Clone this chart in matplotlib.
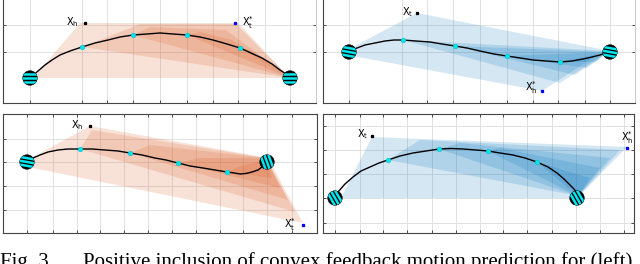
import matplotlib
matplotlib.use("Agg")
import matplotlib.pyplot as plt
from matplotlib.patches import Polygon, Circle
import numpy as np

W, H = 640, 264
ORANGE = '#d95319'
BLUE = '#0072bd'

# ---------------- data (pixel-space coordinates) ----------------
# top-left panel
tl_curve_x = [30, 38, 45, 52, 60, 70, 82, 95, 108, 120, 133, 147, 160, 173, 187, 200, 213, 227, 240, 251, 262, 272, 280, 286, 290]
tl_curve_y = [78, 71, 65, 60, 55, 51, 47, 43, 40, 37, 35, 34, 33, 34, 35, 37, 40, 44, 48, 53, 58, 64, 70, 74, 78]
tl_dots_x = [82, 133, 187, 240]
tl_dots_y = [47, 35, 35, 48]
tl_robots = [(30, 78, 0), (290, 78, 0)]
tl_shapes = [
    [(33, 78), (80, 23), (238, 23), (290, 78)],
    [(82, 47), (140, 24), (236, 24), (290, 78)],
    [(133, 35), (150, 27), (226, 30), (290, 78)],
    [(187, 35), (200, 32), (232, 40), (290, 78)],
    [(240, 48), (252, 51), (290, 78)],
]
tl_labels = [("$\\mathrm{X}_\\mathrm{h}$", 79, 22, 85, 23, 'k', 'right'),
             ("$\\mathrm{X}^{*}_{\\mathrm{t}}$", 242, 23, 235, 23, 'b', 'left')]
tl_xgrid = [30, 82, 107, 133, 160, 187, 213, 238, 265, 290]
tl_ygrid = [25, 52]

# top-right panel
tr_curve_x = [349, 357, 365, 375, 385, 394, 403, 416, 430, 442, 455, 467, 480, 494, 507, 520, 533, 546, 560, 572, 583, 592, 600, 606, 610]
tr_curve_y = [52, 48, 45, 43, 41, 40, 40, 41, 42, 44, 46, 48, 51, 54, 56, 58, 60, 61, 62, 61, 59, 57, 55, 53, 52]
tr_dots_x = [403, 455, 507, 560]
tr_dots_y = [40, 46, 56, 62]
tr_robots = [(349, 52, 10), (610, 52, 10)]
tr_shapes = [
    [(353, 47), (417, 13), (605, 50), (542, 91), (353, 56)],
    [(403, 40), (608, 51), (560, 83)],
    [(455, 46), (608, 52), (575, 75)],
    [(507, 56), (608, 52), (587, 68)],
    [(560, 62), (608, 52), (596, 62)],
]
tr_labels = [("$\\mathrm{X}_\\mathrm{t}$", 413, 12, 417, 13, 'k', 'right'),
             ("$\\mathrm{X}^{*}_{\\mathrm{h}}$", 538, 88, 542, 91, 'b', 'right')]
tr_xgrid = [349, 402, 427, 453, 480, 507, 533, 558, 585, 610]
tr_ygrid = [25, 52]

# bottom-left panel
bl_curve_x = [27, 33, 40, 48, 58, 68, 80, 92, 105, 118, 130, 142, 155, 166, 178, 190, 203, 215, 227, 234, 240, 246, 252, 258, 262]
bl_curve_y = [162, 158, 155, 152, 150, 149, 149, 149, 150, 151, 153, 155, 158, 160, 163, 166, 168, 170, 172, 173, 174, 173.5, 172, 170, 167]
bl_dots_x = [80, 130, 178, 227]
bl_dots_y = [149, 153, 163, 172]
bl_robots = [(27, 162, 10), (267, 162, 70)]
bl_shapes = [
    [(33, 157), (90, 126), (268, 158), (303, 223), (33, 168)],
    [(80, 149), (92, 130), (266, 158), (295, 212)],
    [(130, 153), (150, 145), (266, 158), (288, 200)],
    [(178, 163), (200, 158), (266, 158), (280, 188)],
    [(227, 172), (240, 166), (266, 160), (272, 178)],
]
bl_labels = [("$\\mathrm{X}_\\mathrm{h}$", 84, 125, 90, 126, 'k', 'right'),
             ("$\\mathrm{X}^{*}_{\\mathrm{t}}$", 296, 225, 303, 225, 'b', 'right')]
bl_xgrid = [27, 53, 77, 100, 124, 148, 172, 196, 220, 243, 267, 292]
bl_ygrid = [139, 162, 186, 210]

# bottom-right panel
br_curve_x = [338, 345, 353, 361, 370, 379, 388, 400, 413, 426, 439, 451, 463, 476, 488, 500, 513, 525, 537, 548, 557, 564, 570, 574, 577]
br_curve_y = [192, 184, 177, 171, 167, 163, 160, 156, 153, 151, 149, 148.5, 149, 150, 151, 153, 155, 158, 162, 167, 173, 179, 185, 189, 193]
br_dots_x = [388, 439, 488, 537]
br_dots_y = [160, 149, 151, 162]
br_robots = [(335, 198, 60), (577, 198, 60)]
br_shapes = [
    [(341, 198), (372, 137), (627, 147), (583, 192), (577, 198)],
    [(388, 160), (420, 140), (620, 150), (579, 196)],
    [(439, 149), (460, 143), (610, 158), (578, 196)],
    [(488, 151), (500, 148), (600, 168), (578, 196)],
    [(537, 162), (590, 178), (578, 196)],
]
br_labels = [("$\\mathrm{X}_\\mathrm{t}$", 368, 134, 372, 136, 'k', 'right'),
             ("$\\mathrm{X}^{*}_{\\mathrm{h}}$", 634, 138, 627, 148, 'b', 'right')]
br_xgrid = [335, 360, 383, 407, 432, 456, 480, 503, 527, 552, 576, 600, 624]
br_ygrid = [126, 150, 174, 198, 223]

caption_left = "Fig. 3."
caption_right = "Positive inclusion of convex feedback motion prediction for (left)"

# ---------------- drawing ----------------
fig = plt.figure(figsize=(W / 100, H / 100), dpi=100)


def make_ax(x0, y0, x1, y1):
    ax = fig.add_axes([x0 / W, 1 - y1 / H, (x1 - x0) / W, (y1 - y0) / H])
    ax.set_xlim(x0, x1)
    ax.set_ylim(y1, y0)
    return ax


def draw_robot(ax, x, y, ang):
    r = 7.2
    c = Circle((x, y), r, facecolor='black', edgecolor='black', lw=0.5, zorder=6)
    ax.add_patch(c)
    t = np.deg2rad(ang)
    d = np.array([np.cos(t), np.sin(t)])
    n = np.array([-np.sin(t), np.cos(t)])
    for off in (-3.8, 0.0, 3.8):
        p0 = np.array([x, y]) + n * off - d * 10
        p1 = np.array([x, y]) + n * off + d * 10
        ln, = ax.plot([p0[0], p1[0]], [p0[1], p1[1]], color='#00e5ee', lw=1.8,
                      solid_capstyle='butt', zorder=7)
        ln.set_clip_path(c)


def panel(box, curve_x, curve_y, dots_x, dots_y, robots, shapes, labels,
          xgrid, ygrid, color, right_spine=True):
    ax = make_ax(*box)
    ax.set_xticks(xgrid)
    ax.set_yticks(ygrid)
    ax.set_xticklabels([])
    ax.set_yticklabels([])
    ax.tick_params(direction='in', length=2.5, width=0.6, color='#333333',
                   top=True, right=True)
    ax.grid(True, color='#dcdcdc', lw=0.6, zorder=0)
    ax.set_axisbelow(True)
    for s in ax.spines.values():
        s.set_color('#444444')
        s.set_linewidth(0.8)
    if not right_spine:
        ax.spines['right'].set_color('#cccccc')
    for pts in shapes:
        ax.add_patch(Polygon(pts, closed=True, facecolor=color, alpha=0.17,
                             edgecolor='none', zorder=2))
    ax.plot(curve_x, curve_y, color='black', lw=1.0, zorder=4)
    ax.plot(dots_x, dots_y, 'o', ms=3.4, color='#00e5ee', mec='#00b8c0',
            mew=0.3, zorder=5)
    for (x, y, a) in robots:
        draw_robot(ax, x, y, a)
    for (txt, tx, ty, dx, dy, dc, ha) in labels:
        ax.text(tx, ty, txt, fontsize=7, ha=ha, va='center', color='black',
                family='DejaVu Sans', zorder=8)
        ax.plot([dx], [dy], 's', ms=1.4, color=('black' if dc == 'k' else '#0000ff'),
                zorder=8)
    return ax


panel((3, -6, 316, 103), tl_curve_x, tl_curve_y, tl_dots_x, tl_dots_y, tl_robots,
      tl_shapes, tl_labels, tl_xgrid, tl_ygrid, ORANGE, right_spine=False)
panel((323, -6, 635, 103), tr_curve_x, tr_curve_y, tr_dots_x, tr_dots_y, tr_robots,
      tr_shapes, tr_labels, tr_xgrid, tr_ygrid, BLUE, right_spine=False)
panel((3, 114, 317, 233), bl_curve_x, bl_curve_y, bl_dots_x, bl_dots_y, bl_robots,
      bl_shapes, bl_labels, bl_xgrid, bl_ygrid, ORANGE)
panel((323, 114, 634, 233), br_curve_x, br_curve_y, br_dots_x, br_dots_y, br_robots,
      br_shapes, br_labels, br_xgrid, br_ygrid, BLUE)

base_y = 1 - 266.5 / H
fig.text(0.0, base_y, caption_left, fontsize=15.0, family='Liberation Serif',
         ha='left', va='baseline')
fig.text(83 / W, base_y, caption_right, fontsize=15.0, family='Liberation Serif',
         ha='left', va='baseline')

fig.savefig('out.png', dpi=100)
